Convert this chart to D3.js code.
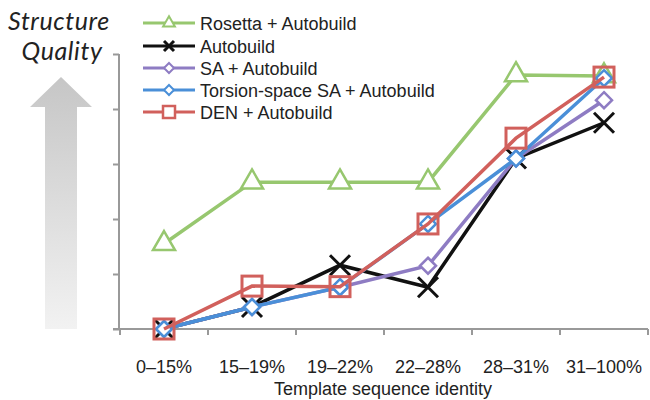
<!doctype html>
<html>
<head>
<meta charset="utf-8"/>
<script src="https://cdnjs.cloudflare.com/ajax/libs/d3/7.8.5/d3.min.js"></script>
<style>
body { margin: 0; background: #fff; }
svg { font-family: "Liberation Sans", Arial, sans-serif; }
</style>
</head>
<body>
<svg width="650" height="400"></svg>
<script>
var categories = ["0\u201315%", "15\u201319%", "19\u201322%", "22\u201328%", "28\u201331%", "31\u2013100%"];
var seriesNames = ["Rosetta + Autobuild", "Autobuild", "SA + Autobuild", "Torsion-space SA + Autobuild", "DEN + Autobuild"];
var rosetta = [1.55, 2.67, 2.67, 2.67, 4.62, 4.6];
var autobuild = [0, 0.4, 1.16, 0.76, 3.1, 3.75];
var saAuto = [0, 0.4, 0.76, 1.15, 3.1, 4.16];
var torsionAuto = [0, 0.4, 0.76, 1.91, 3.1, 4.56];
var denAuto = [0, 0.78, 0.77, 1.91, 3.47, 4.58];
var yTicks = [0, 1, 2, 3, 4, 5];

var colors = ["#97c76f", "#111111", "#8e7cc3", "#4a8fd8", "#d1605c"];
var symbols = ["triangle", "cross", "diamond", "diamond", "square"];
var allData = [rosetta, autobuild, saAuto, torsionAuto, denAuto];

var svg = d3.select("svg");

// gradient arrow
var defs = svg.append("defs");
var grad = defs.append("linearGradient").attr("id", "arrowGrad")
	.attr("x1", 0).attr("y1", 0).attr("x2", 0).attr("y2", 1);
grad.append("stop").attr("offset", "0%").attr("stop-color", "#c6c6c6");
grad.append("stop").attr("offset", "100%").attr("stop-color", "#f2f2f2");

svg.append("path")
	.attr("d", "M61,77 L92,107 L77,107 L77,329 L45,329 L45,107 L30,107 Z")
	.style("fill", "url(#arrowGrad)");

svg.append("text").attr("x", 59).attr("y", 30)
	.attr("text-anchor", "middle")
	.style("font-family", "Lato, 'Open Sans', sans-serif")
	.style("font-style", "italic").style("font-size", "25px").style("fill", "#222")
	.style("letter-spacing", "0.6px")
	.text("Structure");
svg.append("text").attr("x", 62).attr("y", 60)
	.attr("text-anchor", "middle")
	.style("font-family", "Lato, 'Open Sans', sans-serif")
	.style("font-style", "italic").style("font-size", "25px").style("fill", "#222")
	.style("letter-spacing", "0.6px")
	.text("Quality");

var xScale = d3.scaleBand().domain(categories).range([120, 648]);
var yScale = d3.scaleLinear().domain([0, 5]).range([329, 54]);

// axes
var yAxis = svg.append("g").attr("transform", "translate(119,0)")
	.call(d3.axisLeft(yScale).tickValues(yTicks).tickSize(6).tickFormat(""));
yAxis.select(".domain").attr("stroke", "#999").attr("stroke-width", 2).attr("d", "M0,54V329");
yAxis.selectAll(".tick line").attr("stroke", "#999").attr("stroke-width", 2);

var xAxis = svg.append("g").attr("transform", "translate(0,329)")
	.call(d3.axisBottom(xScale).tickSize(0).tickPadding(31));
xAxis.select(".domain").attr("stroke", "#999").attr("stroke-width", 2).attr("d", "M113,0H648");
xAxis.selectAll(".tick text").style("font-size", "18px").style("fill", "#222")
	.style("font-family", "'Liberation Sans', Arial, sans-serif");

svg.append("g").selectAll("line")
	.data(categories.concat(["end"]))
	.enter().append("line")
	.attr("x1", (d, i) => i < categories.length ? xScale(d) : xScale.range()[1])
	.attr("x2", (d, i) => i < categories.length ? xScale(d) : xScale.range()[1])
	.attr("y1", 329).attr("y2", 335)
	.attr("stroke", "#999").attr("stroke-width", 2);

svg.append("text").attr("x", 383).attr("y", 395)
	.attr("text-anchor", "middle").style("font-size", "18px").style("fill", "#222")
	.text("Template sequence identity");

function cx(i) { return xScale(categories[i]) + xScale.bandwidth() / 2; }

var line = d3.line().x((d, i) => cx(i)).y(d => yScale(d));

function marker(g, type, color, x, y) {
	if (type === "triangle") {
		g.append("path").attr("d", d3.symbol().type(d3.symbolTriangle).size(210)())
			.attr("transform", "translate(" + x + "," + (y) + ")")
			.style("fill", "#fff").style("stroke", color).style("stroke-width", 2.5);
	} else if (type === "cross") {
		g.append("path").attr("d", "M-10,-10L10,10M-10,10L10,-10")
			.attr("transform", "translate(" + x + "," + y + ")")
			.style("stroke", color).style("stroke-width", 3);
	} else if (type === "diamond") {
		g.append("path").attr("d", "M0,-8L8,0L0,8L-8,0Z")
			.attr("transform", "translate(" + x + "," + y + ")")
			.style("fill", "#fff").style("stroke", color).style("stroke-width", 2.5);
	} else {
		g.append("rect").attr("x", x - 10).attr("y", y - 10).attr("width", 20).attr("height", 20)
			.style("fill", "none").style("stroke", color).style("stroke-width", 3);
	}
}

allData.forEach(function (vals, s) {
	var g = svg.append("g");
	g.append("path").datum(vals).attr("d", line)
		.style("fill", "none").style("stroke", colors[s]).style("stroke-width", 3.5);
	vals.forEach(function (v, i) { marker(g, symbols[s], colors[s], cx(i), yScale(v)); });
});

// legend
var legendY = [23, 46, 68, 90, 112];
seriesNames.forEach(function (name, s) {
	var g = svg.append("g");
	g.append("line").attr("x1", 143).attr("x2", 195).attr("y1", legendY[s]).attr("y2", legendY[s])
		.style("stroke", colors[s]).style("stroke-width", 3);
	var ms = symbols[s];
	if (ms === "triangle") {
		g.append("path").attr("d", d3.symbol().type(d3.symbolTriangle).size(60)())
			.attr("transform", "translate(169," + legendY[s] + ")")
			.style("fill", "#fff").style("stroke", colors[s]).style("stroke-width", 2);
	} else if (ms === "cross") {
		g.append("path").attr("d", "M-5,-5L5,5M-5,5L5,-5")
			.attr("transform", "translate(169," + legendY[s] + ")")
			.style("stroke", colors[s]).style("stroke-width", 3);
	} else if (ms === "diamond") {
		g.append("path").attr("d", "M0,-5L5,0L0,5L-5,0Z")
			.attr("transform", "translate(169," + legendY[s] + ")")
			.style("fill", "#fff").style("stroke", colors[s]).style("stroke-width", 2);
	} else {
		g.append("rect").attr("x", 163).attr("y", legendY[s] - 6).attr("width", 12).attr("height", 12)
			.style("fill", "#fff").style("stroke", colors[s]).style("stroke-width", 2.5);
	}
	g.append("text").attr("x", 200).attr("y", legendY[s] + 6.5)
		.style("font-size", "18px").style("fill", "#222").text(name);
});
</script>
</body>
</html>
